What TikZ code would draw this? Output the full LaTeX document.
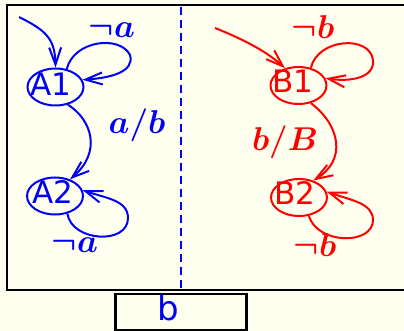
\RequirePackage{fix-cm}
\documentclass[tikz,border=0pt]{standalone}
\usepackage{fontspec}
\newfontfamily\hand{DejaVu Sans}
\usetikzlibrary{shapes.geometric,arrows.meta}
\definecolor{bgc}{RGB}{255,255,240}
\definecolor{cblue}{RGB}{0,0,245}
\definecolor{cred}{RGB}{255,0,0}
\tikzset{
  stateA/.style={ellipse, draw=cblue, line width=2pt, minimum width=56pt, minimum height=37pt, inner sep=0pt},
  stateB/.style={ellipse, draw=cred, line width=2pt, minimum width=56pt, minimum height=37pt, inner sep=0pt},
  stname/.style={inner sep=0pt, font=\hand\fontsize{31}{31}\selectfont},
  lab/.style={inner sep=0pt, font=\fontsize{33}{33}\selectfont\boldmath},
  edge/.style={line width=2pt, -{Straight Barb[length=17pt,width=12pt]}},
}
\begin{document}
\begin{tikzpicture}[x=1pt,y=-1pt]
\useasboundingbox (0,0) rectangle (404,331);
\clip (0,0) rectangle (404,331);
\fill[bgc] (0,0) rectangle (404,331);
% frame
\draw[line width=2.8pt] (7,5) rectangle (420,290);
% divider
\draw[cblue, line width=2.5pt, dash pattern=on 8pt off 5pt] (181,7) -- (181,288);
% output box
\node[draw, line width=2.5pt, minimum width=131pt, minimum height=36pt, inner sep=0pt] (out) at (181,312) {};
\node[stname, text=cblue, font=\hand\fontsize{34}{34}\selectfont] (outb) at (168,308) {b};

% states
\node[stateA] (A1) at (55.5,87) {};
\node[stateA] (A2) at (55,196) {};
\node[stateB] (B1) at (298.5,85.5) {};
\node[stateB] (B2) at (299,197.5) {};
\node[stname, text=cblue] (A1t) at (51,84) {A1};
\node[stname, text=cblue] (A2t) at (52.5,191.5) {A2};
\node[stname, text=cred] (B1t) at (293,81.5) {B1};
\node[stname, text=cred] (B2t) at (294.5,193) {B2};

% A machine
\coordinate (Ainit) at (19,17);
\draw[edge, cblue] (Ainit) .. controls (45,30) and (55,38) .. (A1.north);
\draw[edge, cblue] (A1.58) .. controls (74,40) and (120,35) .. (130,55) .. controls (135,72) and (110,78) .. (A1.15);
\draw[edge, cblue] (A1.-55) .. controls (92,120) and (102,152) .. (A2.48);
\draw[edge, cblue] (A2.-55) .. controls (72,242) and (128,245) .. (128,218) .. controls (128,200) and (105,198) .. (A2.12);
\node[lab, text=cblue] (la1) at (112,30) {$\neg a$};
\node[lab, text=cblue] (lab) at (137,125) {$a/b$};
\node[lab, text=cblue] (la2) at (75,245) {$\neg a$};

% B machine
\coordinate (Binit) at (215,28);
\draw[edge, cred] (Binit) .. controls (240,38) and (265,50) .. (B1.128);
\draw[edge, cred] (B1.55) .. controls (318,38) and (370,35) .. (373,60) .. controls (375,78) and (350,82) .. (B1.15);
\draw[edge, cred] (B1.-55) .. controls (340,125) and (347,160) .. (B2.50);
\draw[edge, cred] (B2.-62) .. controls (318,245) and (373,245) .. (373,220) .. controls (373,203) and (350,200) .. (B2.12);
\node[lab, text=cred] (lb1) at (313,27) {$\neg b$};
\node[lab, text=cred] (lbB) at (285,142) {$b/B$};
\node[lab, text=cred] (lb2) at (315,245) {$\neg b$};
\end{tikzpicture}
\end{document}
